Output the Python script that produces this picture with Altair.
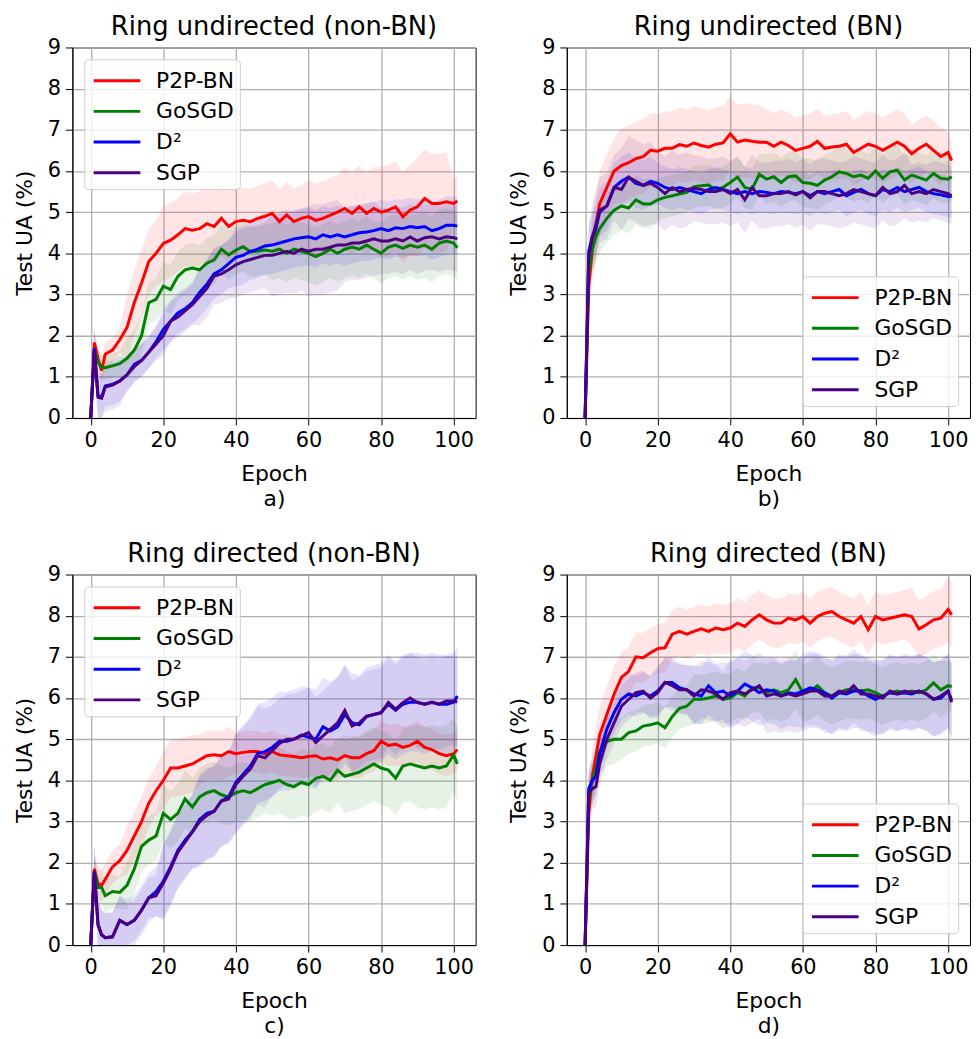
import altair as alt
import pandas as pd

EPOCHS = [0, 1, 2, 3] + list(range(4, 101, 2)) + [101]
SERIES = ["P2P-BN", "GoSGD", "D²", "SGP"]
COLORS = ["#ff0000", "#008000", "#0000ff", "#4b0082"]
PANEL_TITLES = ["Ring undirected (non-BN)", "Ring undirected (BN)",
                "Ring directed (non-BN)", "Ring directed (BN)"]
PANEL_LABELS = ["a)", "b)", "c)", "d)"]
X_TICKS = [0, 20, 40, 60, 80, 100]
Y_TICKS = [0, 1, 2, 3, 4, 5, 6, 7, 8, 9]

# ---- panel a: Ring undirected (non-BN) ----
A_P2P = [0, 1.83, 1.45, 1.15,
         1.55, 1.65, 1.9, 2.2, 2.8, 3.28, 3.8, 4.0, 4.24, 4.32,
         4.45, 4.6, 4.56, 4.6, 4.72, 4.65, 4.85, 4.65, 4.77, 4.8,
         4.77, 4.85, 4.9, 4.97, 4.77, 4.93, 4.77, 4.85, 4.89, 4.8,
         4.85, 4.93, 5.0, 5.09, 4.97, 5.13, 4.97, 5.09, 5.0, 5.05,
         5.13, 4.89, 5.05, 5.13, 5.33, 5.21, 5.21, 5.25, 5.21,
         5.27]
A_GOSGD = [0, 1.65, 1.35, 1.23,
           1.22, 1.27, 1.32, 1.45, 1.65, 2.0, 2.8, 2.88, 3.2, 3.12,
           3.44, 3.6, 3.64, 3.6, 3.76, 3.84, 4.1, 3.96, 4.08, 4.16,
           4.04, 4.05, 4.08, 4.05, 4.1, 4.0, 4.1, 4.05, 4.0, 3.92,
           4.0, 4.1, 4.0, 4.1, 4.15, 4.1, 4.2, 4.1, 4.0, 4.15,
           4.2, 4.12, 4.2, 4.15, 4.2, 4.1, 4.25, 4.3, 4.25,
           4.13]
A_D2 = [0, 1.7, 0.55, 0.5,
        0.78, 0.82, 0.9, 1.05, 1.3, 1.4, 1.6, 1.85, 2.15, 2.35,
        2.55, 2.65, 2.8, 3.05, 3.25, 3.5, 3.6, 3.75, 3.9, 3.95,
        4.05, 4.1, 4.18, 4.2, 4.25, 4.3, 4.35, 4.38, 4.4, 4.35,
        4.45, 4.4, 4.45, 4.4, 4.45, 4.5, 4.52, 4.55, 4.6, 4.55,
        4.62, 4.6, 4.65, 4.62, 4.65, 4.55, 4.6, 4.68, 4.68,
        4.66]
A_SGP = [0, 1.65, 0.5, 0.48,
         0.75, 0.8, 0.9, 1.05, 1.25, 1.4, 1.6, 1.8, 2.0, 2.35,
         2.45, 2.6, 2.75, 2.95, 3.15, 3.45, 3.5, 3.6, 3.72, 3.8,
         3.85, 3.9, 3.95, 3.95, 4.0, 4.05, 4.0, 4.1, 4.05, 4.1,
         4.1, 4.15, 4.2, 4.2, 4.25, 4.25, 4.3, 4.35, 4.3, 4.3,
         4.35, 4.3, 4.4, 4.3, 4.38, 4.4, 4.35, 4.4, 4.38,
         4.35]
A_SD = [[0.3, 0.8, 0.9, 0.9, 0.8, 0.8, 0.9, 1.0, 1.1, 1.2, 0.6],
        [0.3, 0.5, 0.6, 0.6, 0.6, 0.7, 0.7, 0.7, 0.75, 0.8, 0.8],
        [0.5, 0.4, 0.5, 0.6, 0.7, 0.7, 0.7, 0.7, 0.7, 0.7, 0.7],
        [0.6, 0.4, 0.5, 0.7, 0.8, 1.0, 1.1, 0.9, 0.8, 0.8, 0.8]]

# ---- panel b: Ring undirected (BN) ----
B_P2P = [0, 3.2, 4.1, 4.7,
         5.2, 5.6, 6.0, 6.13, 6.2, 6.3, 6.35, 6.5, 6.48, 6.55,
         6.55, 6.64, 6.6, 6.68, 6.62, 6.58, 6.65, 6.68, 6.9, 6.7,
         6.75, 6.72, 6.7, 6.7, 6.6, 6.7, 6.62, 6.5, 6.55, 6.6,
         6.72, 6.55, 6.58, 6.6, 6.65, 6.45, 6.55, 6.65, 6.6, 6.5,
         6.6, 6.7, 6.6, 6.42, 6.55, 6.65, 6.5, 6.35, 6.45,
         6.25]
B_GOSGD = [0, 3.5, 4.1, 4.4,
           4.6, 4.85, 5.05, 5.15, 5.1, 5.3, 5.2, 5.2, 5.3, 5.36,
           5.4, 5.44, 5.48, 5.62, 5.64, 5.66, 5.55, 5.6, 5.72, 5.85,
           5.6, 5.56, 5.92, 5.8, 5.86, 5.72, 5.86, 5.88, 5.72, 5.7,
           5.65, 5.78, 5.86, 5.98, 5.94, 5.86, 5.9, 5.82, 6.0, 5.82,
           5.98, 6.02, 5.78, 5.9, 5.84, 5.78, 5.94, 5.82, 5.8,
           5.86]
B_D2 = [0, 4.05, 4.4, 4.6,
        5.0, 5.15, 5.6, 5.75, 5.85, 5.7, 5.65, 5.75, 5.7, 5.6,
        5.55, 5.6, 5.55, 5.5, 5.45, 5.55, 5.6, 5.55, 5.5, 5.45,
        5.5, 5.45, 5.5, 5.48, 5.45, 5.5, 5.48, 5.45, 5.5, 5.4,
        5.5, 5.45, 5.5, 5.55, 5.4, 5.48, 5.55, 5.45, 5.4, 5.55,
        5.5, 5.6, 5.5, 5.55, 5.6, 5.5, 5.45, 5.42, 5.38,
        5.38]
B_SGP = [0, 3.9, 4.4, 4.7,
         5.05, 5.15, 5.6, 5.55, 5.85, 5.75, 5.65, 5.7, 5.6, 5.45,
         5.6, 5.5, 5.55, 5.58, 5.55, 5.5, 5.5, 5.55, 5.45, 5.55,
         5.3, 5.6, 5.4, 5.4, 5.45, 5.45, 5.5, 5.42, 5.5, 5.35,
         5.5, 5.5, 5.45, 5.4, 5.45, 5.55, 5.5, 5.45, 5.4, 5.6,
         5.45, 5.5, 5.65, 5.45, 5.5, 5.45, 5.55, 5.5, 5.45,
         5.4]
B_SD = [[0.8, 0.9, 0.9, 0.9, 0.9, 0.8, 0.8, 0.8, 0.8, 0.7, 0.5],
        [0.6, 0.6, 0.5, 0.5, 0.5, 0.6, 0.6, 0.6, 0.6, 0.6, 0.6],
        [0.6, 0.6, 0.5, 0.5, 0.5, 0.5, 0.5, 0.5, 0.5, 0.5, 0.5],
        [0.8, 1.0, 0.9, 0.8, 0.8, 0.8, 0.8, 0.8, 0.8, 0.7, 0.7]]

# ---- panel c: Ring directed (non-BN) ----
C_P2P = [0, 1.85, 1.5, 1.45,
         1.6, 1.9, 2.05, 2.3, 2.65, 3.0, 3.45, 3.75, 4.0, 4.3,
         4.3, 4.35, 4.4, 4.5, 4.6, 4.62, 4.6, 4.7, 4.65, 4.68,
         4.7, 4.7, 4.65, 4.7, 4.62, 4.6, 4.58, 4.55, 4.58, 4.6,
         4.52, 4.55, 4.5, 4.6, 4.55, 4.55, 4.65, 4.72, 4.95, 4.85,
         4.88, 4.8, 4.85, 4.95, 4.8, 4.75, 4.65, 4.6, 4.65,
         4.75]
C_GOSGD = [0, 1.8, 1.4, 1.4,
           1.2, 1.3, 1.28, 1.45, 1.85, 2.4, 2.55, 2.65, 3.2, 3.05,
           3.2, 3.55, 3.35, 3.6, 3.7, 3.75, 3.65, 3.6, 3.7, 3.75,
           3.7, 3.8, 3.9, 3.95, 4.0, 3.9, 3.85, 3.95, 3.9, 4.05,
           4.1, 4.0, 4.25, 4.1, 4.15, 4.2, 4.3, 4.4, 4.3, 4.25,
           4.05, 4.35, 4.4, 4.35, 4.3, 4.35, 4.3, 4.35, 4.62,
           4.4]
C_D2 = [0, 1.8, 0.5, 0.25,
        0.18, 0.2, 0.6, 0.5, 0.6, 0.85, 1.15, 1.3, 1.55, 1.9,
        2.3, 2.55, 2.75, 3.05, 3.2, 3.25, 3.5, 3.6, 3.95, 4.15,
        4.35, 4.65, 4.7, 4.8, 4.95, 4.95, 5.0, 5.1, 5.05, 5.0,
        5.3, 5.2, 5.3, 5.6, 5.4, 5.35, 5.55, 5.6, 5.65, 5.85,
        5.7, 5.85, 5.9, 5.9, 5.85, 5.9, 5.85, 5.85, 5.9,
        6.05]
C_SGP = [0, 1.8, 0.5, 0.25,
         0.18, 0.2, 0.6, 0.5, 0.6, 0.85, 1.15, 1.2, 1.5, 1.85,
         2.25, 2.5, 2.75, 3.0, 3.15, 3.25, 3.5, 3.55, 3.9, 4.1,
         4.28, 4.6, 4.55, 4.72, 4.9, 5.0, 5.0, 5.08, 5.16, 4.92,
         5.08, 5.24, 5.4, 5.7, 5.32, 5.4, 5.56, 5.6, 5.64, 5.89,
         5.73, 5.89, 6.0, 5.89, 5.85, 5.89, 5.85, 5.93, 5.93,
         5.9]
C_SD = [[0.4, 0.6, 0.7, 0.6, 0.5, 0.5, 0.5, 0.5, 0.5, 0.5, 0.5],
        [0.4, 0.6, 0.7, 0.7, 0.7, 0.8, 0.8, 0.9, 0.9, 1.0, 0.9],
        [0.6, 0.6, 0.9, 1.1, 1.2, 1.2, 1.2, 1.2, 1.2, 1.2, 1.2],
        [0.6, 0.5, 0.9, 1.1, 1.2, 1.1, 1.1, 1.1, 1.1, 1.1, 1.1]]

# ---- panel d: Ring directed (BN) ----
D_P2P = [0, 3.2, 4.1, 4.6,
         5.1, 5.6, 6.1, 6.5, 6.65, 7.0, 6.98, 7.1, 7.2, 7.22,
         7.55, 7.62, 7.55, 7.62, 7.68, 7.62, 7.7, 7.66, 7.7, 7.82,
         7.74, 7.9, 8.02, 7.9, 7.82, 7.82, 7.94, 7.9, 7.98, 7.82,
         7.98, 8.06, 8.1, 7.98, 7.9, 7.82, 7.98, 7.66, 7.98, 7.9,
         7.94, 7.98, 8.02, 7.98, 7.68, 7.78, 7.9, 7.94, 8.15,
         8.02]
D_GOSGD = [0, 3.5, 4.0, 4.3,
           4.7, 4.95, 5.0, 5.0, 5.16, 5.2, 5.32, 5.35, 5.4, 5.28,
           5.55, 5.75, 5.8, 5.97, 5.97, 6.0, 6.05, 5.97, 6.0, 6.13,
           6.05, 6.25, 6.25, 6.13, 6.2, 6.13, 6.2, 6.45, 6.13, 6.17,
           6.3, 6.13, 6.05, 6.13, 6.2, 6.2, 6.17, 6.2, 6.13, 6.05,
           6.13, 6.17, 6.13, 6.17, 6.13, 6.2, 6.37, 6.2, 6.3,
           6.28]
D_D2 = [0, 3.8, 4.0, 4.1,
        4.65, 5.25, 5.65, 5.97, 6.1, 6.05, 6.13, 6.05, 6.17, 6.38,
        6.38, 6.25, 6.2, 6.1, 6.05, 6.3, 6.13, 6.17, 6.05, 6.17,
        6.34, 6.25, 6.13, 6.2, 6.17, 6.05, 6.13, 6.1, 6.17, 6.25,
        6.2, 6.13, 6.0, 6.13, 6.1, 6.17, 6.17, 6.05, 5.97, 6.05,
        6.13, 6.1, 6.13, 6.1, 6.17, 6.1, 5.97, 6.0, 6.17,
        5.95]
D_SGP = [0, 3.7, 3.8, 3.85,
         4.4, 5.0, 5.4, 5.8, 5.97, 6.13, 6.17, 6.0, 6.13, 6.38,
         6.3, 6.2, 6.2, 6.05, 6.2, 6.17, 6.1, 5.97, 6.13, 6.17,
         6.1, 6.2, 6.3, 6.05, 6.1, 6.05, 6.1, 6.05, 6.1, 6.17,
         6.17, 6.05, 6.05, 6.17, 6.13, 6.3, 6.1, 6.1, 6.05, 6.0,
         6.17, 6.1, 6.17, 6.13, 6.17, 6.1, 5.97, 6.05, 6.17,
         5.9]
D_SD = [[0.7, 0.6, 0.6, 0.6, 0.6, 0.6, 0.6, 0.6, 0.6, 0.7, 0.8],
        [0.6, 0.5, 0.5, 0.6, 0.6, 0.7, 0.7, 0.7, 0.7, 0.7, 0.6],
        [0.5, 0.5, 0.6, 0.7, 0.8, 0.8, 0.9, 0.9, 0.9, 0.9, 0.9],
        [0.5, 0.5, 0.6, 0.7, 0.8, 0.9, 0.9, 0.9, 0.9, 0.9, 0.9]]

PANELS = [
    ([A_P2P, A_GOSGD, A_D2, A_SGP], A_SD, "top-left"),
    ([B_P2P, B_GOSGD, B_D2, B_SGP], B_SD, "bottom-right"),
    ([C_P2P, C_GOSGD, C_D2, C_SGP], C_SD, "top-left"),
    ([D_P2P, D_GOSGD, D_D2, D_SGP], D_SD, "bottom-right"),
]

FONT = "DejaVu Sans"
W, H = 407, 374


def make_frame(series_vals, sds):
    rows = []
    for si, (name, vals, sd) in enumerate(zip(SERIES, series_vals, sds)):
        assert len(vals) == len(EPOCHS), (name, len(vals))
        for e, m in zip(EPOCHS, vals):
            s = 0.0 if m == 0 else sd[min(e // 10, 10)]
            rows.append({"epoch": e, "mean": m, "lo": max(0.0, m - s),
                         "hi": m + s, "series": name,
                         "bandcolor": COLORS[si], "order": si})
    return pd.DataFrame(rows)


def make_panel(idx):
    vals, sds, orient = PANELS[idx]
    df = make_frame(vals, sds)
    xscale = alt.Scale(domain=[-5.05, 106.05], nice=False, zero=False)
    yscale = alt.Scale(domain=[0, 9], nice=False)
    xaxis = alt.Axis(values=X_TICKS, title=["Epoch", PANEL_LABELS[idx]],
                     titleLineHeight=25, titlePadding=13)
    yaxis = alt.Axis(values=Y_TICKS, title="Test UA (%)", titlePadding=11)
    base = alt.Chart(df)
    band = base.mark_area(opacity=0.1).encode(
        x=alt.X("epoch:Q", scale=xscale, axis=xaxis),
        y=alt.Y("lo:Q", scale=yscale, axis=yaxis),
        y2="hi:Q",
        fill=alt.Fill("bandcolor:N", scale=None),
        detail="bandcolor:N",
    )
    line = base.mark_line(strokeWidth=3).encode(
        x=alt.X("epoch:Q", scale=xscale, axis=xaxis),
        y=alt.Y("mean:Q", scale=yscale, axis=yaxis),
        color=alt.Color("series:N",
                        scale=alt.Scale(domain=SERIES, range=COLORS),
                        legend=alt.Legend(
                            title=None, orient=orient, offset=12, padding=5,
                            fillColor="rgba(255,255,255,0.8)",
                            strokeColor="#cccccc", cornerRadius=4,
                            labelFontSize=22, labelFont=FONT,
                            labelColor="black",
                            symbolType="M-1.57,0L1.57,0",
                            symbolStrokeWidth=3, symbolSize=900,
                            symbolOffset=11.5,
                            rowPadding=3, labelOffset=23)),
        order=alt.Order("order:Q"),
    )
    return alt.layer(band, line).properties(
        width=W, height=H,
        title=alt.TitleParams(PANEL_TITLES[idx], fontSize=26,
                              fontWeight="normal", font=FONT,
                              color="black", anchor="middle", offset=-3),
    )


chart = alt.concat(
    *[make_panel(i) for i in range(4)], columns=2,
    spacing={"row": 30, "column": 31},
).resolve_scale(color="independent").resolve_legend(
    color="independent"
).properties(
    padding={"left": 5, "top": 0, "right": 0, "bottom": 0}
).configure_view(
    stroke="black", strokeWidth=1
).configure_axis(
    labelFontSize=21, titleFontSize=22, labelFont=FONT, titleFont=FONT,
    labelColor="black", titleColor="black", titleFontWeight="normal",
    domainColor="black", domainWidth=1, tickColor="black", tickSize=7,
    tickWidth=1, labelPadding=5, gridColor="#b0b0b0", gridWidth=1.3,
    labelFlush=False, labelOverlap=False
)

chart.save("out.html", embed_options={"renderer": "svg", "actions": False})
